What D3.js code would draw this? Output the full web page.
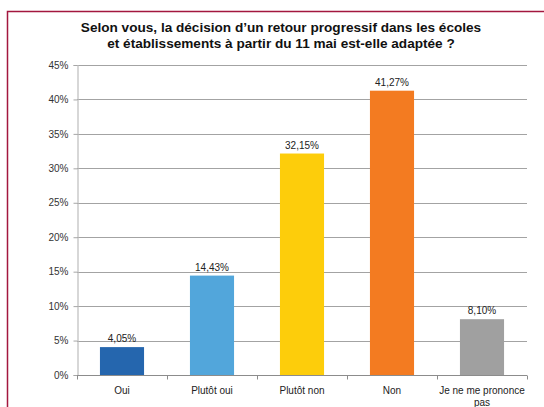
<!DOCTYPE html>
<html>
<head>
<meta charset="utf-8">
<script src="https://cdn.jsdelivr.net/npm/d3@7"></script>
<style>
  body { margin: 0; background: #fff; }
  svg { display: block; font-family: "Liberation Sans", Arial, sans-serif; }
</style>
</head>
<body>
<div id="chart"></div>
<script>
// Données du sondage
const categories = ["Oui", "Plutôt oui", "Plutôt non", "Non", "Je ne me prononce pas"];
const values = [4.05, 14.43, 32.15, 41.27, 8.10];
const colors = ["#2566ae", "#52a6db", "#fdcd0b", "#f37b21", "#a0a0a0"];
const yTicks = [0, 5, 10, 15, 20, 25, 30, 35, 40, 45];
const titleLines = [
    "Selon vous, la décision d\u2019un retour progressif dans les écoles",
    "et établissements à partir du 11 mai est-elle adaptée ?"
];

const width = 544, height = 407;
const margin = { left: 77, right: 17, top: 65, bottom: 32 };

const svg = d3.select("#chart").append("svg")
    .attr("width", width)
    .attr("height", height);

// Cadre
svg.append("path")
    .attr("d", `M7.5,${height} V11.5 H${width}`)
    .attr("fill", "none")
    .attr("stroke", "#a3173f")
    .attr("stroke-width", 1.5);

// Titre
svg.append("g").selectAll("text")
    .data(titleLines)
    .enter()
    .append("text")
    .attr("x", 281)
    .attr("y", (d, i) => 31.5 + i * 16)
    .attr("text-anchor", "middle")
    .attr("font-weight", "bold")
    .attr("font-size", "13.6px")
    .attr("fill", "#111")
    .text(d => d);

const x = d3.scaleBand()
    .domain(categories)
    .range([margin.left, width - margin.right])
    .paddingInner(0.51)
    .paddingOuter(0.255);

const y = d3.scaleLinear()
    .domain([0, 45])
    .range([height - margin.bottom, margin.top]);

// Grille
svg.append("g").selectAll("line")
    .data(yTicks.slice(1))
    .enter()
    .append("line")
    .attr("x1", margin.left)
    .attr("x2", width - margin.right)
    .attr("y1", d => Math.round(y(d)) + 0.5)
    .attr("y2", d => Math.round(y(d)) + 0.5)
    .attr("stroke", "#a3a3a3")
    .attr("stroke-width", 1.2);

// Axe Y
const yAxis = svg.append("g")
    .attr("transform", `translate(${margin.left + 0.5},0)`)
    .call(d3.axisLeft(y).tickValues(yTicks).tickFormat(d => d + "%").tickSize(4).tickPadding(5));
yAxis.select(".domain").attr("stroke", "#bdbdbd").attr("stroke-width", 1.2);
yAxis.selectAll(".tick line").attr("stroke", "#a6a6a6");
yAxis.selectAll(".tick text").attr("font-size", "10px").attr("fill", "#333")
    .attr("font-family", "Liberation Sans, Arial, sans-serif");

// Barres
svg.append("g").selectAll("rect")
    .data(values)
    .enter()
    .append("rect")
    .attr("x", (d, i) => x(categories[i]))
    .attr("y", d => y(d))
    .attr("width", x.bandwidth())
    .attr("height", d => y(0) - y(d))
    .attr("fill", (d, i) => colors[i]);

// Étiquettes de valeurs
svg.append("g").selectAll("text")
    .data(values)
    .enter()
    .append("text")
    .attr("x", (d, i) => x(categories[i]) + x.bandwidth() / 2)
    .attr("y", d => y(d) - 5)
    .attr("text-anchor", "middle")
    .attr("font-size", "10px")
    .attr("fill", "#222")
    .text(d => d.toFixed(2).replace(".", ",") + "%");

// Axe X
const step = x.step();
const xAxis = svg.append("g")
    .attr("transform", `translate(0,${Math.round(y(0)) + 0.5})`);
xAxis.append("line")
    .attr("x1", margin.left)
    .attr("x2", width - margin.right)
    .attr("stroke", "#8c8c8c")
    .attr("stroke-width", 1.2);
xAxis.selectAll(".tk")
    .data(d3.range(categories.length + 1))
    .enter()
    .append("line")
    .attr("x1", i => margin.left + i * step + 0.5)
    .attr("x2", i => margin.left + i * step + 0.5)
    .attr("y1", 0)
    .attr("y2", 4)
    .attr("stroke", "#8c8c8c");

const catLines = [["Oui"], ["Plutôt oui"], ["Plutôt non"], ["Non"], ["Je ne me prononce", "pas"]];
xAxis.selectAll(".lbl")
    .data(categories)
    .enter()
    .append("text")
    .attr("x", d => x(d) + x.bandwidth() / 2)
    .attr("y", 18)
    .attr("text-anchor", "middle")
    .attr("font-size", "10px")
    .attr("fill", "#222")
    .each(function(d, i) {
        d3.select(this).selectAll("tspan")
            .data(catLines[i])
            .enter()
            .append("tspan")
            .attr("x", x(d) + x.bandwidth() / 2)
            .attr("dy", (t, j) => j === 0 ? 0 : 12)
            .text(t => t);
    });
</script>
</body>
</html>
